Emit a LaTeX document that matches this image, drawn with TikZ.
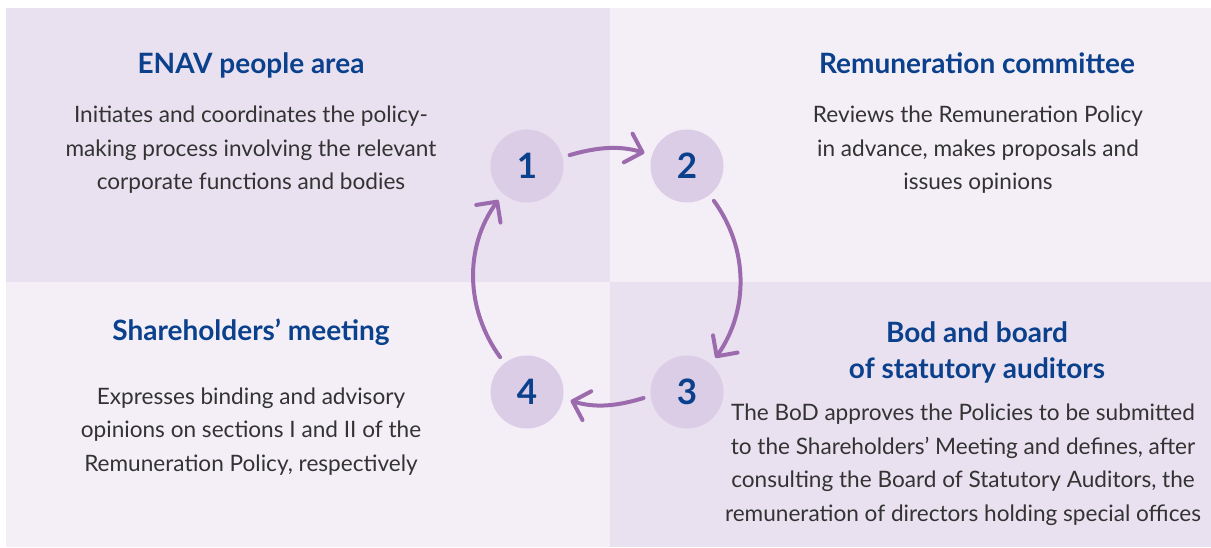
\documentclass[tikz,border=0pt]{standalone}
\usepackage{fontspec}
\setmainfont{Lato}
\usetikzlibrary{arrows.meta}
\definecolor{paneldark}{HTML}{E9E1F0}
\definecolor{panellight}{HTML}{F4EFF7}
\definecolor{circfill}{HTML}{DCCDE6}
\definecolor{arrowc}{HTML}{9B6BAE}
\definecolor{titleblue}{HTML}{0A408C}
\definecolor{bodytext}{HTML}{333333}
\begin{document}
\begin{tikzpicture}[x=1pt,y=1pt,
 title/.style={font=\fontsize{28pt}{36pt}\selectfont\bfseries, text=titleblue, align=center, anchor=base, inner sep=0pt},
 body/.style={font=\fontsize{22.6pt}{33.5pt}\selectfont, text=bodytext, align=center, anchor=base, inner sep=0pt},
 stepcirc/.style={circle, fill=circfill, minimum size=73pt, inner sep=0pt, outer sep=0pt, font=\fontsize{35pt}{35pt}\selectfont\bfseries, text=titleblue},
 cyc/.style={draw=arrowc, line width=4pt, line cap=round, line join=round, -{Straight Barb[length=15pt, width=30pt, line cap=round, line join=round]}, shorten <=7.5pt, shorten >=8pt}
]
\useasboundingbox (0,0) rectangle (1211,-548);
\fill[white] (0,0) rectangle (1211,-548);
\fill[paneldark] (6,-8) rectangle (610,-282);
\fill[panellight] (610,-8) rectangle (1211,-282);
\fill[panellight] (6,-282) rectangle (610,-547);
\fill[paneldark] (610,-282) rectangle (1211,-547);

\node[stepcirc] (c1) at (527,-166) {1};
\node[stepcirc] (c2) at (687,-166) {2};
\node[stepcirc] (c3) at (687,-392) {3};
\node[stepcirc] (c4) at (527,-392) {4};

\draw[cyc] (c1.14) to[out=16,in=163] (c2.163);
\draw[cyc] (c2.-52) to[out=-54,in=55] (c3.49);
\draw[cyc] (c3.186) to[out=197,in=-17] (c4.-10);
\draw[cyc] (c4.128) to[out=126,in=234] (c1.229);

\node[title] (t1) at (251,-74) {ENAV people area};
\node[body] (b1) at (251,-190) {Initiates and coordinates the policy-\\making process involving the relevant\\corporate functions and bodies};

\node[title] (t2) at (977,-74) {Remuneration committee};
\node[body] (b2) at (978,-190) {Reviews the Remuneration Policy\\in advance, makes proposals and\\issues opinions};

\node[title] (t4) at (251,-340) {Shareholders’ meeting};
\node[body] (b4) at (251,-471) {Expresses binding and advisory\\opinions on sections I and II of the\\Remuneration Policy, respectively};

\node[title] (t3) at (977,-378) {Bod and board\\of statutory auditors};
\node[body] (b3) at (963,-521) {The BoD approves the Policies to be submitted\\to the Shareholders’ Meeting and defines, after\\consulting the Board of Statutory Auditors, the\\remuneration of directors holding special offices};
\end{tikzpicture}
\end{document}
